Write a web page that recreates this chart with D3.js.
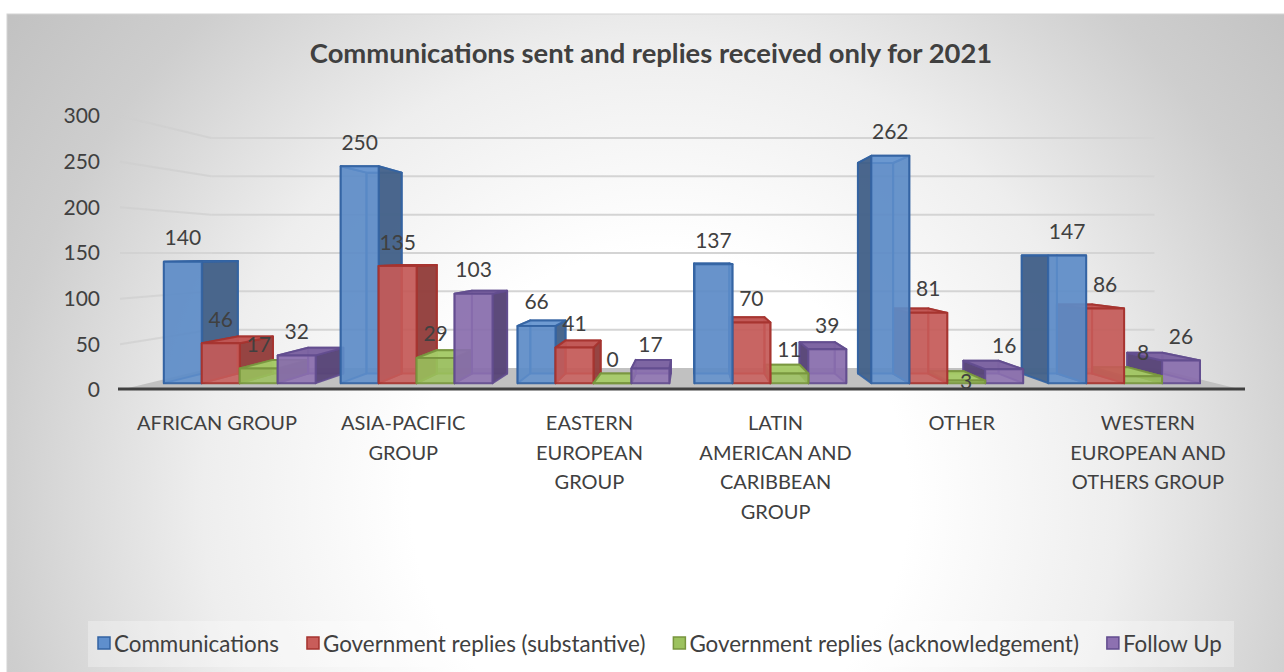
<!DOCTYPE html>
<html>
<head>
<meta charset="utf-8">
<script src="https://cdn.jsdelivr.net/npm/d3@7"></script>
<style>
  body { margin: 0; background: #ffffff; }
  svg text { font-family: Lato, "Open Sans", "DejaVu Sans", sans-serif; fill: #404040; }
</style>
</head>
<body>
<svg id="chart" width="1284" height="672"></svg>
<script>
// ---- data ----
const categories = ["AFRICAN GROUP", "ASIA-PACIFIC GROUP", "EASTERN EUROPEAN GROUP",
  "LATIN AMERICAN AND CARIBBEAN GROUP", "OTHER", "WESTERN EUROPEAN AND OTHERS GROUP"];
const categoryLines = [["AFRICAN GROUP"], ["ASIA-PACIFIC", "GROUP"], ["EASTERN", "EUROPEAN", "GROUP"],
  ["LATIN", "AMERICAN AND", "CARIBBEAN", "GROUP"], ["OTHER"], ["WESTERN", "EUROPEAN AND", "OTHERS GROUP"]];
const seriesNames = ["Communications", "Government replies (substantive)",
  "Government replies (acknowledgement)", "Follow Up"];
const communications = [140, 250, 66, 137, 262, 147];
const substantive = [46, 135, 41, 70, 81, 86];
const acknowledgement = [17, 29, 0, 11, 3, 8];
const followUp = [32, 103, 17, 39, 16, 26];
const yTicks = [0, 50, 100, 150, 200, 250, 300];
const chartTitle = "Communications sent and replies received only for 2021";

const seriesValues = [communications, substantive, acknowledgement, followUp];

// face colours for each series
const palette = [
  { front: "#5f8fcd", side: "#46638a", top: "#6d9ad3", stroke: "#3363a2" },
  { front: "#c95d5a", side: "#93403e", top: "#c25654", stroke: "#a5332f" },
  { front: "#9cc25e", side: "#6e8c3c", top: "#a6cb68", stroke: "#78953e" },
  { front: "#8d71b1", side: "#584678", top: "#7c63a2", stroke: "#624c8e" }
];

// ---- perspective setup ----
const VX = 690, VY = 253;              // vanishing point
const S_BAR_FRONT = 0.95, S_BAR_BACK = 0.88, S_WALL = 0.84;
const proj = (x, y, s) => [VX + (x - VX) * s, VY + (y - VY) * s];

const svg = d3.select("#chart");
const defs = svg.append("defs");

// background
const bg = defs.append("radialGradient").attr("id", "bgGrad")
  .attr("gradientUnits", "userSpaceOnUse").attr("cx", 660).attr("cy", 500).attr("r", 830);
[[0, "#ffffff"], [0.3, "#ffffff"], [0.55, "#eeeeee"], [0.8, "#cecece"], [1, "#c0c0c0"]]
  .forEach(([o, c]) => bg.append("stop").attr("offset", o).attr("stop-color", c));
svg.append("rect").attr("x", 7).attr("y", 14).attr("width", 1290).attr("height", 670)
  .attr("fill", "url(#bgGrad)").attr("stroke", "#d4d4d4").attr("stroke-width", 1);

// title
svg.append("text").attr("x", 651).attr("y", 63).attr("text-anchor", "middle")
  .style("font-size", "27.4px").style("font-weight", "bold").text(chartTitle);

// scales (front plane)
const x0 = d3.scaleBand().domain(categories).range([123, 1240]);
const x1 = d3.scaleBand().domain(seriesNames).range([0, x0.bandwidth()]).paddingOuter(0.33);
const y = d3.scaleLinear().domain([0, 300]).range([390, 116]);

const wallL = 120, wallR = 1243;
const line = d3.line();

// floor
const floorPts = [[wallL, y(0)], [wallR, y(0)], proj(wallR, y(0), S_WALL), proj(wallL, y(0), S_WALL)];
svg.append("path").attr("d", line(floorPts) + "Z").attr("fill", "#c1c1c1");

// gridlines: along the left wall, then across the back wall
const grid = svg.append("g").attr("fill", "none").attr("stroke", "#d4d4d4").attr("stroke-width", 2);
yTicks.filter(t => t > 0).forEach(t => {
  const a = [wallL, y(t)], b = proj(wallL, y(t), S_WALL), c = proj(wallR, y(t), S_WALL);
  grid.append("path").attr("d", line([a, b])).attr("stroke", "#cfcfcf").attr("stroke-opacity", 0.7);
  grid.append("path").attr("d", line([b, c]));
});

// y axis labels
const yAxis = svg.append("g").attr("transform", `translate(${wallL},0)`)
  .call(d3.axisLeft(y).tickValues(yTicks).tickSize(0).tickPadding(20));
yAxis.select(".domain").remove();
yAxis.selectAll("text").style("font-size", "21px").style("font-family", "Lato, sans-serif").attr("fill", "#404040");

// ---- bars as 3D boxes ----
const boxes = [];
categories.forEach((c, i) => {
  seriesNames.forEach((s, j) => {
    const xl = x0(c) + x1(s), xr = xl + x1.bandwidth();
    boxes.push({ i, j, xl, xr, yt: y(seriesValues[j][i]), yb: y(0), v: seriesValues[j][i] });
  });
});
boxes.sort((a, b) => Math.abs((b.xl + b.xr) / 2 - VX) - Math.abs((a.xl + a.xr) / 2 - VX));

const barLayer = svg.append("g").attr("stroke-linejoin", "round");
boxes.forEach(bx => {
  const col = palette[bx.j];
  const F = s => ({
    lt: proj(bx.xl, bx.yt, s), rt: proj(bx.xr, bx.yt, s),
    rb: proj(bx.xr, bx.yb, s), lb: proj(bx.xl, bx.yb, s)
  });
  const f = F(S_BAR_FRONT), k = F(S_BAR_BACK);
  const faces = [];
  // hidden faces first (seen through the glassy front)
  faces.push({ pts: [k.lt, k.rt, k.rb, k.lb], fill: col.side, op: 0.55 });
  const rightVisible = bx.xr < VX, leftVisible = bx.xl > VX;
  const topVisible = bx.yt > VY;
  if (!leftVisible) faces.push({ pts: [f.lt, k.lt, k.lb, f.lb], fill: col.side, op: 0.5 });
  if (!rightVisible) faces.push({ pts: [f.rt, k.rt, k.rb, f.rb], fill: col.side, op: 0.5 });
  if (!topVisible) faces.push({ pts: [f.lt, f.rt, k.rt, k.lt], fill: col.top, op: 0.5 });
  // visible faces
  if (leftVisible) faces.push({ pts: [f.lt, k.lt, k.lb, f.lb], fill: col.side, op: 0.95 });
  if (rightVisible) faces.push({ pts: [f.rt, k.rt, k.rb, f.rb], fill: col.side, op: 0.95 });
  if (topVisible) faces.push({ pts: [f.lt, f.rt, k.rt, k.lt], fill: col.top, op: 0.95 });
  faces.push({ pts: [f.lt, f.rt, f.rb, f.lb], fill: col.front, op: 0.85 });
  barLayer.selectAll(null).data(faces).enter().append("path")
    .attr("d", d => line(d.pts) + "Z")
    .attr("fill", d => d.fill).attr("fill-opacity", d => d.op)
    .attr("stroke", col.stroke).attr("stroke-width", 2).attr("stroke-opacity", 0.9);
});

// front edge of the floor
svg.append("path").attr("d", line([[118, 389], [1245, 389]]))
  .attr("stroke", "#404040").attr("stroke-width", 3);

// data labels
const labelNudge = { "4-2": 25 };
const labels = svg.append("g").attr("text-anchor", "middle").style("font-size", "21px");
boxes.forEach(bx => {
  const [cx] = proj((bx.xl + bx.xr) / 2, bx.yt, S_BAR_FRONT);
  const [, ty] = proj(bx.xl, bx.yt, S_BAR_FRONT);
  labels.append("text").attr("x", cx).attr("y", ty - 25 + (labelNudge[bx.i + "-" + bx.j] || 0))
    .attr("dominant-baseline", "central").text(bx.v);
});

// category labels
const cat = svg.append("g").attr("text-anchor", "middle").style("font-size", "20px");
categories.forEach((c, i) => {
  const cx = x0(c) + x0.bandwidth() / 2 + 1;
  const t = cat.append("text").attr("x", cx).attr("y", 422).attr("dominant-baseline", "central");
  categoryLines[i].forEach((ln, k) => t.append("tspan").attr("x", cx)
    .attr("dy", k === 0 ? 0 : 29.5).text(ln));
});

// legend
svg.append("rect").attr("x", 88).attr("y", 621).attr("width", 1146).attr("height", 46)
  .attr("fill", "#ffffff").attr("fill-opacity", 0.3);
const legend = svg.append("g").style("font-size", "22.4px");
let lx = 98;
seriesNames.forEach((s, j) => {
  legend.append("rect").attr("x", lx).attr("y", 637).attr("width", 12).attr("height", 12)
    .attr("fill", palette[j].front).attr("stroke", palette[j].stroke).attr("stroke-width", 1.5);
  const t = legend.append("text").attr("x", lx + 16).attr("y", 643)
    .attr("dominant-baseline", "central").text(s);
  lx += 16 + t.node().getComputedTextLength() + 28;
});
</script>
</body>
</html>
